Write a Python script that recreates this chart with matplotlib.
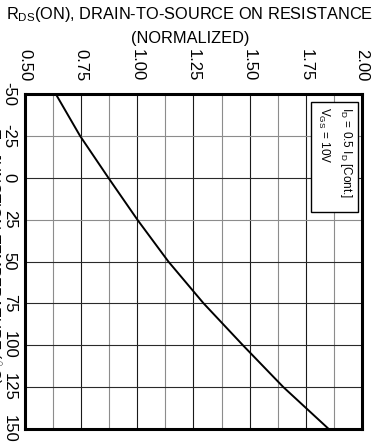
import numpy as np
import matplotlib
matplotlib.use("Agg")
import matplotlib.pyplot as plt
from matplotlib.patches import Rectangle

plt.rcParams['font.family'] = ['Liberation Sans', 'DejaVu Sans']
plt.rcParams['mathtext.fontset'] = 'custom'
plt.rcParams['mathtext.rm'] = 'Liberation Sans'

# junction temperature (deg C) vs normalized on resistance
temp_c = [-50, -25, 0, 25, 50, 75, 100, 125, 150]
rds_norm = [0.637, 0.745, 0.871, 1.0, 1.138, 1.295, 1.47, 1.65, 1.852]

r_ticks = [0.50, 0.75, 1.00, 1.25, 1.50, 1.75, 2.00]
r_minor = [0.625, 0.875, 1.125, 1.375, 1.625, 1.875]
t_ticks = [-50, -25, 0, 25, 50, 75, 100, 125, 150]

fig = plt.figure(figsize=(3.8, 4.43), dpi=100)
ax = fig.add_axes([0.0658, 0.0316, 0.8868, 0.7562])

# grid drawn by hand so major/minor lines get their own shades
for r in r_ticks:
    ax.axvline(r, color='#1a1a1a', lw=0.8, zorder=1)
for r in r_minor:
    ax.axvline(r, color='#8c8c8c', lw=0.8, zorder=1)
for t in t_ticks:
    shade = '#8c8c8c' if t in (-25, 25) else '#2a2a2a'
    ax.axhline(t, color=shade, lw=0.8, zorder=1)

ax.plot(rds_norm, temp_c, color='black', lw=1.4, zorder=3)

ax.set_xlim(0.5, 2.0)
ax.set_ylim(150, -50)
ax.xaxis.tick_top()
ax.set_xticks(r_ticks)
ax.set_xticklabels([f'{v:.2f}' for v in r_ticks], rotation=-90, fontsize=12)
ax.set_yticks(t_ticks)
ax.set_yticklabels([str(v) for v in t_ticks], rotation=-90, fontsize=12,
                   va='center')
ax.tick_params(axis='x', length=0, pad=9)
ax.tick_params(axis='y', length=0, pad=6)
for s in ax.spines.values():
    s.set_linewidth(2.2)
    s.set_zorder(5)

# condition box, upper right corner of the plot
ax.add_patch(Rectangle((0.849, 0.648), 0.139, 0.328, transform=ax.transAxes,
                       facecolor='white', edgecolor='black', lw=1.0, zorder=4))
ax.text(0.92, 0.96,
        'I$_\\mathregular{D}$ = 0.5 I$_\\mathregular{D}$ [Cont.]\n'
        'V$_\\mathregular{GS}$ = 10V',
        transform=ax.transAxes, rotation=-90, ha='center', va='top',
        fontsize=8.5, linespacing=1.6, multialignment='left', zorder=6)

fig.text(0.5, 0.967, 'R$_\\mathregular{DS}$(ON), DRAIN-TO-SOURCE ON RESISTANCE',
         ha='center', va='center', fontsize=11.8)
fig.text(0.5, 0.914, '(NORMALIZED)', ha='center', va='center', fontsize=11.8)

# axis title sits mostly outside the left edge of the figure
fig.text(-0.017, 0.42, 'T$_\\mathregular{J}$, JUNCTION TEMPERATURE ($^\\circ$C)',
         rotation=-90, ha='center', va='center', fontsize=11)

fig.savefig('out.png', dpi=100)
